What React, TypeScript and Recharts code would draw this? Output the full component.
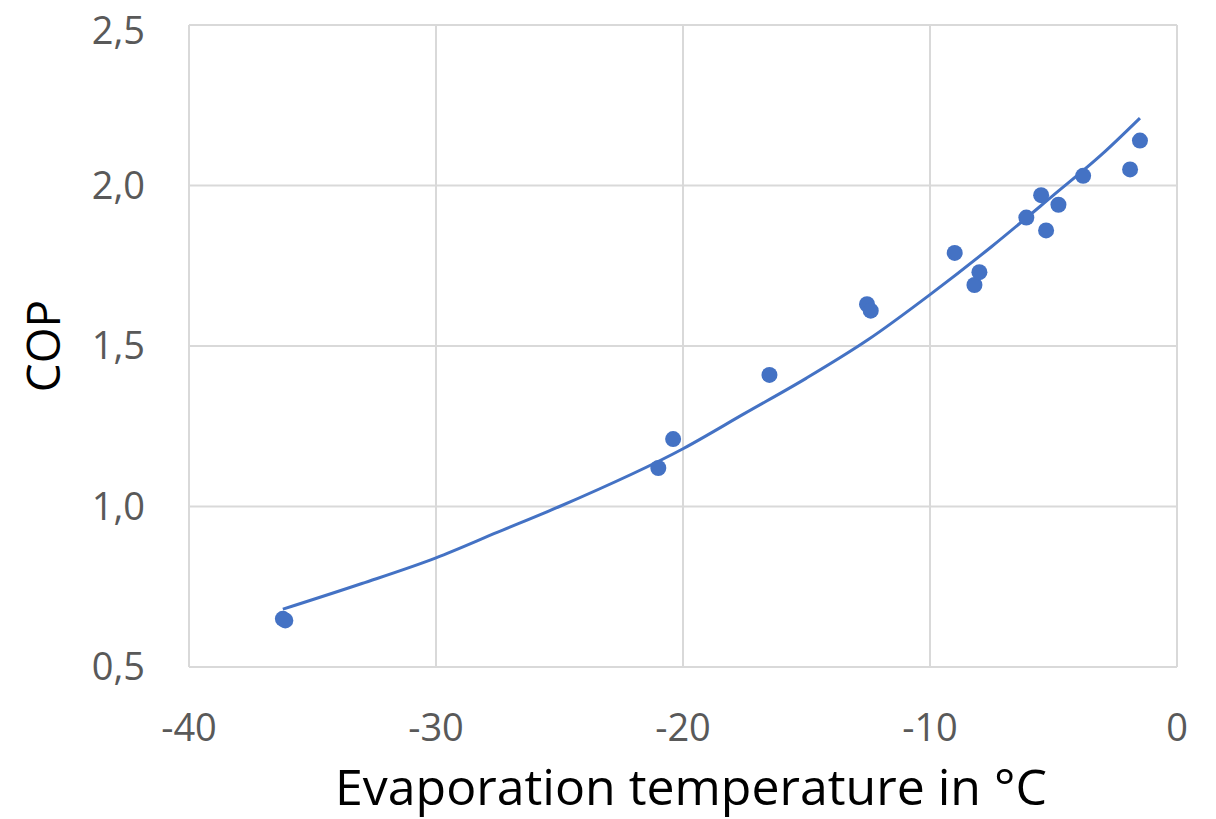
import React from 'react';
import { ComposedChart, Scatter, Line, XAxis, YAxis, CartesianGrid } from 'recharts';

// measured points (evaporation temperature °C, COP)
const tempC = [-36.2, -36.1, -21.0, -20.4, -16.5, -12.55, -12.4, -9.0, -8.2, -8.0, -6.1, -5.5, -5.3, -4.8, -3.8, -1.9, -1.5];
const cop = [0.65, 0.645, 1.12, 1.21, 1.41, 1.63, 1.61, 1.79, 1.69, 1.73, 1.9, 1.97, 1.86, 1.94, 2.03, 2.05, 2.14];

// trend line
const trendX = [-36.2, -33, -30, -27.5, -25, -20, -17.5, -15, -12.5, -10, -7.5, -5, -3, -1.5];
const trendY = [0.68, 0.76, 0.84, 0.92, 1.0, 1.18, 1.29, 1.4, 1.52, 1.66, 1.81, 1.97, 2.1, 2.21];

const xTicks = [-40, -30, -20, -10, 0];
const yTicks = [0.5, 1.0, 1.5, 2.0, 2.5];

const BLUE = '#4472c4';
const GRID = '#d9d9d9';
const FONT = '"Open Sans", sans-serif';

const points = tempC.map((t, i) => ({ x: t, y: cop[i] }));
const trend = trendX.map((t, i) => ({ x: t, y: trendY[i] }));

const Dot = (props: any) => <circle cx={props.cx} cy={props.cy} r={8} fill={BLUE} />;

// axis titles drawn by hand so they sit where the reference has them
const XTitle = ({ viewBox }: any) => (
  <text
    x={viewBox.x + viewBox.width / 2 + 8}
    y={viewBox.y + 138}
    textAnchor="middle"
    fontSize={50}
    fontFamily={FONT}
    fill="#000"
  >
    Evaporation temperature in °C
  </text>
);

const YTitle = ({ viewBox }: any) => {
  const x = viewBox.x + 52;
  const y = viewBox.y + viewBox.height / 2;
  return (
    <text x={x} y={y} transform={`rotate(-90, ${x}, ${y})`} textAnchor="middle" fontSize={46} fontFamily={FONT} fill="#000">
      COP
    </text>
  );
};

export default function App() {
  return (
    <div style={{ width: 1200, height: 811, position: 'relative', fontFamily: FONT }}>
      <ComposedChart width={1200} height={811} margin={{ top: 17, right: 31, left: 0, bottom: 0 }}>
        <CartesianGrid stroke={GRID} strokeWidth={2} />
        <XAxis
          type="number"
          dataKey="x"
          domain={[-40, 0]}
          ticks={xTicks}
          height={152}
          axisLine={{ stroke: GRID, strokeWidth: 2 }}
          tickLine={false}
          tickSize={0}
          tickMargin={47}
          tick={{ fill: '#595959', fontSize: 38, fontFamily: FONT }}
          label={<XTitle />}
        />
        <YAxis
          type="number"
          dataKey="y"
          domain={[0.5, 2.5]}
          ticks={yTicks}
          width={181}
          axisLine={{ stroke: GRID, strokeWidth: 2 }}
          tickLine={false}
          tickSize={0}
          tickMargin={44}
          tickFormatter={(v: number) => v.toFixed(1).replace('.', ',')}
          tick={{ fill: '#595959', fontSize: 38, fontFamily: FONT }}
          label={<YTitle />}
        />
        <Line data={trend} dataKey="y" type="monotone" stroke={BLUE} strokeWidth={3} dot={false} isAnimationActive={false} />
        <Scatter data={points} dataKey="y" fill={BLUE} shape={Dot} isAnimationActive={false} />
      </ComposedChart>
    </div>
  );
}
